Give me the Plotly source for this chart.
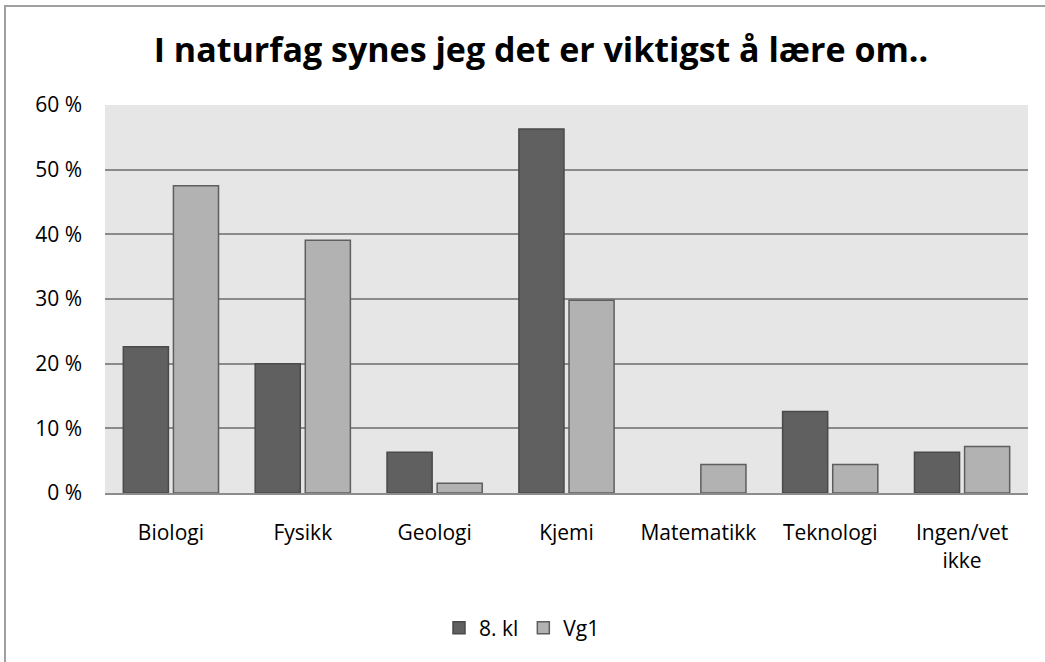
import plotly.graph_objects as go

categories = ["Biologi", "Fysikk", "Geologi", "Kjemi", "Matematikk", "Teknologi", "Ingen/vet<br>ikke"]
kl8 = [22.6, 20.0, 6.3, 56.3, 0.0, 12.6, 6.3]
vg1 = [47.5, 39.1, 1.5, 29.8, 4.4, 4.4, 7.2]
y_ticks = [0, 10, 20, 30, 40, 50, 60]
y_ticktext = [f"{v} %" for v in y_ticks]

FONT = "Open Sans"
W, H = 1045, 662
L, R, T, B = 105, 17, 105, 169
pw, ph = W - L - R, H - T - B

fig = go.Figure()
fig.add_trace(go.Bar(name="8. kl", x=categories, y=kl8,
                     marker=dict(color="#606060",
                                 line=dict(color="#4a4a4a", width=[1.5 if v > 0 else 0 for v in kl8]))))
fig.add_trace(go.Bar(name="Vg1", x=categories, y=vg1,
                     marker=dict(color="#b2b2b2",
                                 line=dict(color="#5e5e5e", width=[1.5 if v > 0 else 0 for v in vg1]))))

def px_x(p):
    return (p - L) / pw

def px_y(p):
    return (H - B - p) / ph

fig.update_layout(
    width=W, height=H,
    margin=dict(l=L, r=R, t=T, b=B),
    paper_bgcolor="white",
    plot_bgcolor="#e6e6e6",
    barmode="group",
    bargap=0.24,
    bargroupgap=0.1,
    font=dict(family=FONT, color="#000000", size=21),
    title=dict(text="<b>I naturfag synes jeg det er viktigst å lære om..</b>",
               x=541 / W, xref="container", xanchor="center",
               y=1 - 50 / H, yref="container", yanchor="middle",
               font=dict(family=FONT, size=34, color="#000000")),
    showlegend=True,
    legend=dict(orientation="h", x=px_x(522), y=px_y(628), xanchor="center", yanchor="middle",
                font=dict(family=FONT, size=21), itemwidth=30, traceorder="normal",
                bgcolor="rgba(0,0,0,0)"),
    yaxis=dict(range=[0, 60], tickvals=y_ticks, ticktext=y_ticktext,
               showgrid=True, gridcolor="#8a8a8a", gridwidth=1.5,
               zeroline=False, showline=False, ticks="",
               ticklabelstandoff=22, fixedrange=True),
    xaxis=dict(showline=True, linecolor="#8c8c8c", linewidth=2, ticks="",
               ticklabelstandoff=20, showgrid=False, tickangle=0),
    shapes=[dict(type="rect", xref="paper", yref="paper",
                 x0=px_x(5), x1=px_x(1100), y0=px_y(700), y1=px_y(6),
                 line=dict(color="#a0a0a0", width=2), fillcolor="rgba(0,0,0,0)", layer="below")],
)

fig.write_html("out.html", config={"displayModeBar": False},
               post_script="document.body.style.margin='0';")
